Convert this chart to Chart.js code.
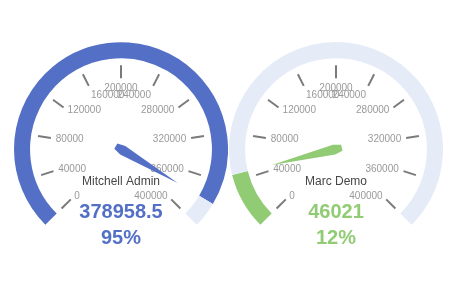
<!DOCTYPE html>
<html>
<head>
<meta charset="utf-8">
<script src="https://cdn.jsdelivr.net/npm/chart.js@4.4.1/dist/chart.umd.min.js"></script>
<style>
  body { margin:0; background:#fff; }
  .wrap { position:relative; width:456px; height:300px; overflow:hidden; }
  canvas { position:absolute; top:0; }
</style>
</head>
<body>
<div class="wrap">
  <canvas id="g0" width="228" height="300" style="left:0"></canvas>
  <canvas id="g1" width="228" height="300" style="left:228px"></canvas>
</div>
<script>
/* DADOS */
const names = ["Mitchell Admin", "Marc Demo"];
const values = [378958.5, 46021];
const percents = ["95%", "12%"];
const gaugeMax = 400000;
const tickLabels = [0, 40000, 80000, 120000, 160000, 200000, 240000, 280000, 320000, 360000, 400000];
const colors = ["#5470c6", "#91cc75"];
const trackColor = "#e6ebf8";

const FONT = "'Liberation Sans', Arial, sans-serif";

function angleOf(v){
  return (135 + v / gaugeMax * 270) * Math.PI / 180;
}

/* PLUGIN DO PONTEIRO, TICKS E TEXTOS */
function gaugePlugin(i){
  return {
    id: "gauge" + i,
    afterDatasetsDraw(chart){
      const ctx = chart.ctx;
      const arc = chart.getDatasetMeta(0).data[0];
      const cx = arc.x, cy = arc.y, R = arc.outerRadius;
      ctx.save();

      // ticks
      ctx.strokeStyle = "#7a7a7a";
      ctx.lineWidth = 2;
      tickLabels.forEach(t=>{
        const a = angleOf(t);
        ctx.beginPath();
        ctx.moveTo(cx + Math.cos(a)*(R-36), cy + Math.sin(a)*(R-36));
        ctx.lineTo(cx + Math.cos(a)*(R-23), cy + Math.sin(a)*(R-23));
        ctx.stroke();
      });

      // labels dos ticks
      ctx.fillStyle = "#999";
      ctx.font = "10px " + FONT;
      tickLabels.forEach(t=>{
        const a = angleOf(t);
        const ux = Math.cos(a), uy = Math.sin(a);
        ctx.textAlign = ux < -0.4 ? "left" : ux > 0.4 ? "right" : "center";
        ctx.textBaseline = uy < -0.8 ? "top" : uy > 0.8 ? "bottom" : "middle";
        ctx.fillText(String(t), cx + ux*(R-41), cy + uy*(R-41));
      });

      // ponteiro
      const a = angleOf(values[i]);
      const dx = Math.cos(a), dy = Math.sin(a);
      const px = -dy, py = dx;
      const L = R - 41;
      const pts = [
        [-6, 3], [2, 5], [L, 0], [2, -5], [-6, -3]
      ];
      ctx.fillStyle = colors[i];
      ctx.beginPath();
      pts.forEach((p, k)=>{
        const x = cx + dx*p[0] + px*p[1];
        const y = cy + dy*p[0] + py*p[1];
        if(k===0) ctx.moveTo(x, y); else ctx.lineTo(x, y);
      });
      ctx.closePath();
      ctx.fill();

      // nome
      ctx.textAlign = "center";
      ctx.textBaseline = "middle";
      ctx.fillStyle = "#464646";
      ctx.font = "12px " + FONT;
      ctx.fillText(names[i], cx, cy + 33);

      // valor e percentual
      ctx.fillStyle = colors[i];
      ctx.font = "bold 20px " + FONT;
      ctx.fillText(String(values[i]), cx, cy + 63);
      ctx.fillText(percents[i], cx, cy + 89);

      ctx.restore();
    }
  };
}

/* GAUGES */
function criarGauge(i, padding){
  return new Chart(document.getElementById("g" + i), {
    type: "doughnut",
    data: {
      labels: [names[i], ""],
      datasets: [{
        data: [values[i], gaugeMax - values[i]],
        backgroundColor: [colors[i], trackColor],
        borderWidth: 0,
        hoverOffset: 0,
        offset: 0
      }]
    },
    options: {
      responsive: false,
      animation: false,
      devicePixelRatio: 1,
      events: [],
      rotation: -135,
      circumference: 270,
      cutout: "85%",
      layout: { padding },
      plugins: { legend: { display: false }, tooltip: { enabled: false } }
    },
    plugins: [gaugePlugin(i)]
  });
}

criarGauge(0, { left: 14, right: 0, top: 42, bottom: 75 });
criarGauge(1, { left: 1, right: 13, top: 42, bottom: 75 });
</script>
</body>
</html>
